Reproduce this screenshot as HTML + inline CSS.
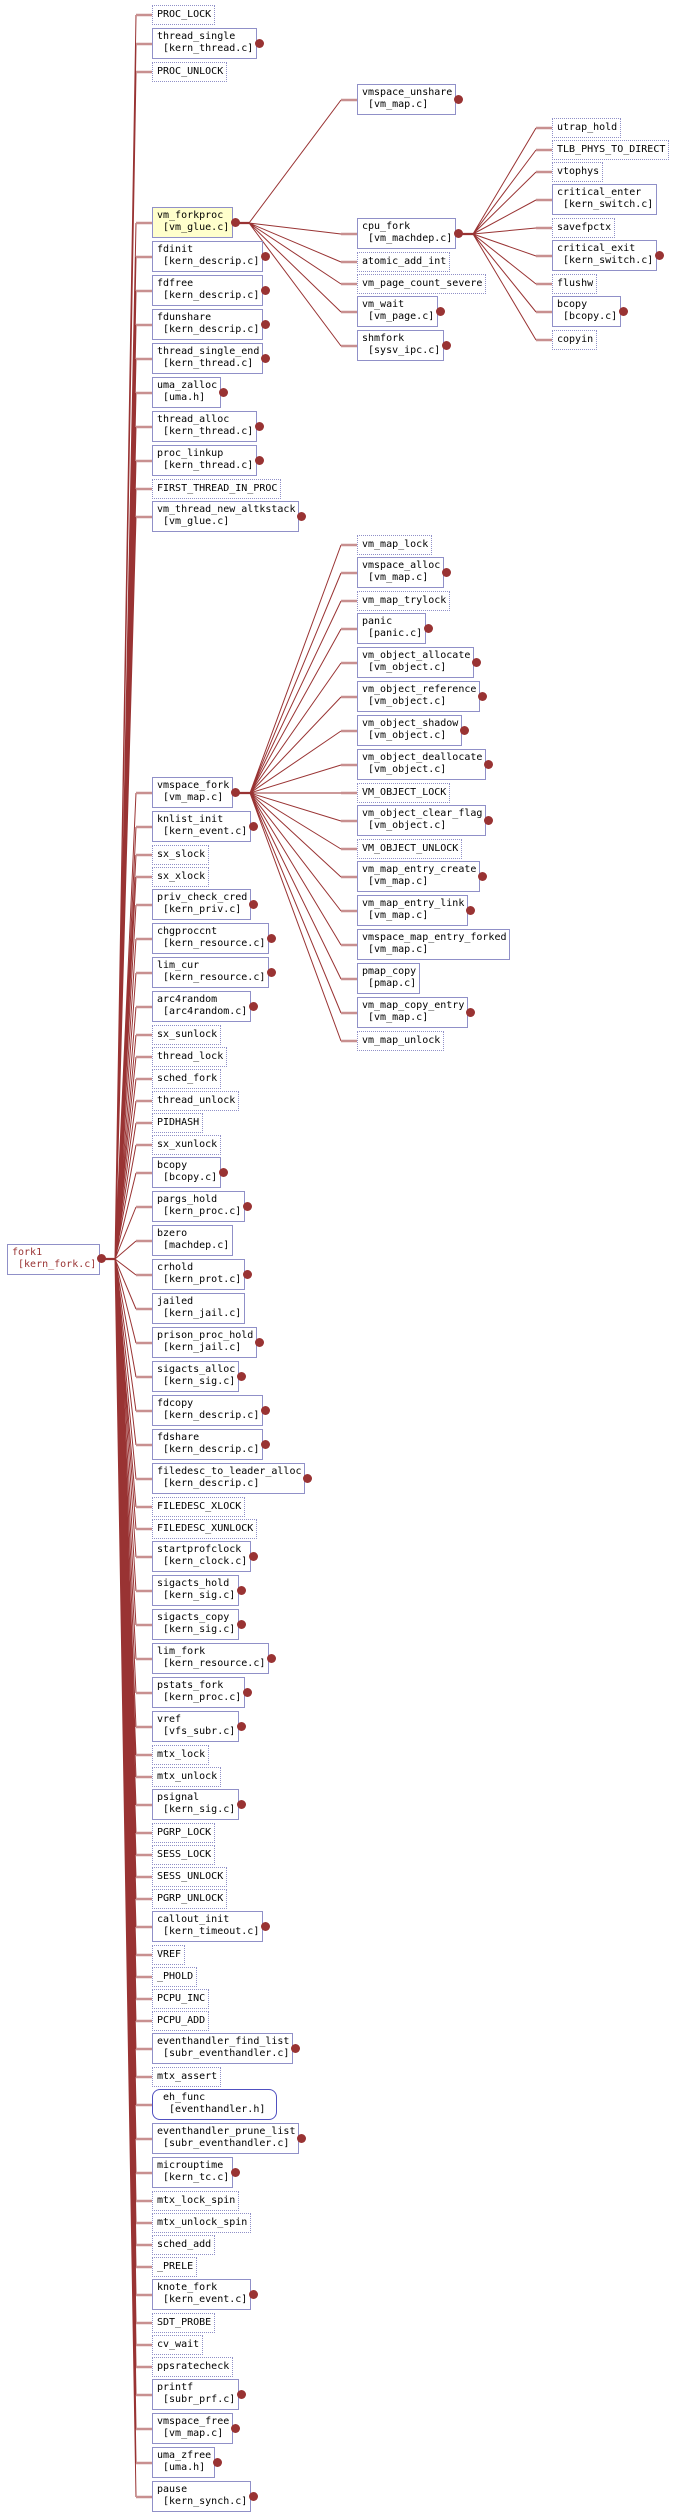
<!DOCTYPE html>
<html><head><meta charset="utf-8"><style>
body{margin:0;width:674px;height:2519px;background:#fff;position:relative;overflow:hidden}
.s,.d,.r{position:absolute;box-sizing:border-box;font:10px/11.7px "DejaVu Sans Mono","Liberation Mono",monospace;white-space:pre;color:#000;background:#fff}
.s{height:31px;border:1.4px solid #9090c8;padding:2px 0 0 4px}
.d{height:20px;border:1.4px dotted #9090c8;padding:2.5px 0 0 4px}
.r{height:31px;border:1.4px solid #5050c0;border-radius:8px;padding:2px 0 0 4px}
.L{left:152px}.M{left:357px}.R{left:552px}
.o{position:absolute;width:9px;height:9px;border-radius:50%;background:#993333}
svg{position:absolute;left:0;top:0}
</style></head><body>
<svg width="674" height="2519">
<g fill="none" stroke="#993333" stroke-width="1">
<path d="M115 1259L136 15M115 1259L136 44M115 1259L136 72M115 1259L136 223M115 1259L136 257M115 1259L136 291M115 1259L136 325M115 1259L136 359M115 1259L136 393M115 1259L136 427M115 1259L136 461M115 1259L136 489M115 1259L136 517M115 1259L136 793M115 1259L136 827M115 1259L136 855M115 1259L136 877M115 1259L136 905M115 1259L136 939M115 1259L136 973M115 1259L136 1007M115 1259L136 1035M115 1259L136 1057M115 1259L136 1079M115 1259L136 1101M115 1259L136 1123M115 1259L136 1145M115 1259L136 1173M115 1259L136 1207M115 1259L136 1241M115 1259L136 1275M115 1259L136 1309M115 1259L136 1343M115 1259L136 1377M115 1259L136 1411M115 1259L136 1445M115 1259L136 1479M115 1259L136 1507M115 1259L136 1529M115 1259L136 1557M115 1259L136 1591M115 1259L136 1625M115 1259L136 1659M115 1259L136 1693M115 1259L136 1727M115 1259L136 1755M115 1259L136 1777M115 1259L136 1805M115 1259L136 1833M115 1259L136 1855M115 1259L136 1877M115 1259L136 1899M115 1259L136 1927M115 1259L136 1955M115 1259L136 1977M115 1259L136 1999M115 1259L136 2021M115 1259L136 2049M115 1259L136 2077M115 1259L136 2105M115 1259L136 2139M115 1259L136 2173M115 1259L136 2201M115 1259L136 2223M115 1259L136 2245M115 1259L136 2267M115 1259L136 2295M115 1259L136 2323M115 1259L136 2345M115 1259L136 2367M115 1259L136 2395M115 1259L136 2429M115 1259L136 2463M115 1259L136 2497"/>
<path d="M249 223L341 100M249 223L341 234M249 223L341 262M249 223L341 284M249 223L341 312M249 223L341 346"/>
<path d="M473 234L536 128M473 234L536 150M473 234L536 172M473 234L536 200M473 234L536 228M473 234L536 256M473 234L536 284M473 234L536 312M473 234L536 340"/>
<path d="M250 793L341 545M250 793L341 573M250 793L341 601M250 793L341 629M250 793L341 663M250 793L341 697M250 793L341 731M250 793L341 765M250 793L341 793M250 793L341 821M250 793L341 849M250 793L341 877M250 793L341 911M250 793L341 945M250 793L341 979M250 793L341 1013M250 793L341 1041"/>
</g>
<g fill="none" stroke="#993333" stroke-width="2.2">
<path d="M102 1259H115M235 223H249M459 234H473M236 793H250"/>
</g>
<g fill="none" stroke="#c89090" stroke-width="2.4">
<path d="M136 15H152M136 44H152M136 72H152M136 223H152M136 257H152M136 291H152M136 325H152M136 359H152M136 393H152M136 427H152M136 461H152M136 489H152M136 517H152M136 793H152M136 827H152M136 855H152M136 877H152M136 905H152M136 939H152M136 973H152M136 1007H152M136 1035H152M136 1057H152M136 1079H152M136 1101H152M136 1123H152M136 1145H152M136 1173H152M136 1207H152M136 1241H152M136 1275H152M136 1309H152M136 1343H152M136 1377H152M136 1411H152M136 1445H152M136 1479H152M136 1507H152M136 1529H152M136 1557H152M136 1591H152M136 1625H152M136 1659H152M136 1693H152M136 1727H152M136 1755H152M136 1777H152M136 1805H152M136 1833H152M136 1855H152M136 1877H152M136 1899H152M136 1927H152M136 1955H152M136 1977H152M136 1999H152M136 2021H152M136 2049H152M136 2077H152M136 2105H152M136 2139H152M136 2173H152M136 2201H152M136 2223H152M136 2245H152M136 2267H152M136 2295H152M136 2323H152M136 2345H152M136 2367H152M136 2395H152M136 2429H152M136 2463H152M136 2497H152"/>
<path d="M341 100H357M341 234H357M341 262H357M341 284H357M341 312H357M341 346H357"/>
<path d="M536 128H552M536 150H552M536 172H552M536 200H552M536 228H552M536 256H552M536 284H552M536 312H552M536 340H552"/>
<path d="M341 545H357M341 573H357M341 601H357M341 629H357M341 663H357M341 697H357M341 731H357M341 765H357M341 793H357M341 821H357M341 849H357M341 877H357M341 911H357M341 945H357M341 979H357M341 1013H357M341 1041H357"/>
</g>
</svg>

<div class="s" style="left:7px;top:1244px;width:93px;color:#993333">fork1
 [kern_fork.c]</div><div class="o" style="left:97px;top:1254px"></div>

<div class="d L" style="top:5px;width:63px">PROC_LOCK</div>
<div class="s L" style="top:28px;width:105px">thread_single
 [kern_thread.c]</div><div class="o" style="left:255px;top:39px"></div>
<div class="d L" style="top:62px;width:75px">PROC_UNLOCK</div>
<div class="s L" style="top:207px;width:81px;background:#ffffcc">vm_forkproc
 [vm_glue.c]</div><div class="o" style="left:231px;top:218px"></div>
<div class="s L" style="top:241px;width:111px">fdinit
 [kern_descrip.c]</div><div class="o" style="left:261px;top:252px"></div>
<div class="s L" style="top:275px;width:111px">fdfree
 [kern_descrip.c]</div><div class="o" style="left:261px;top:286px"></div>
<div class="s L" style="top:309px;width:111px">fdunshare
 [kern_descrip.c]</div><div class="o" style="left:261px;top:320px"></div>
<div class="s L" style="top:343px;width:111px">thread_single_end
 [kern_thread.c]</div><div class="o" style="left:261px;top:354px"></div>
<div class="s L" style="top:377px;width:69px">uma_zalloc
 [uma.h]</div><div class="o" style="left:219px;top:388px"></div>
<div class="s L" style="top:411px;width:105px">thread_alloc
 [kern_thread.c]</div><div class="o" style="left:255px;top:422px"></div>
<div class="s L" style="top:445px;width:105px">proc_linkup
 [kern_thread.c]</div><div class="o" style="left:255px;top:456px"></div>
<div class="d L" style="top:479px;width:129px">FIRST_THREAD_IN_PROC</div>
<div class="s L" style="top:501px;width:147px">vm_thread_new_altkstack
 [vm_glue.c]</div><div class="o" style="left:297px;top:512px"></div>
<div class="s L" style="top:777px;width:81px">vmspace_fork
 [vm_map.c]</div><div class="o" style="left:231px;top:788px"></div>
<div class="s L" style="top:811px;width:99px">knlist_init
 [kern_event.c]</div><div class="o" style="left:249px;top:822px"></div>
<div class="d L" style="top:845px;width:57px">sx_slock</div>
<div class="d L" style="top:867px;width:57px">sx_xlock</div>
<div class="s L" style="top:889px;width:99px">priv_check_cred
 [kern_priv.c]</div><div class="o" style="left:249px;top:900px"></div>
<div class="s L" style="top:923px;width:117px">chgproccnt
 [kern_resource.c]</div><div class="o" style="left:267px;top:934px"></div>
<div class="s L" style="top:957px;width:117px">lim_cur
 [kern_resource.c]</div><div class="o" style="left:267px;top:968px"></div>
<div class="s L" style="top:991px;width:99px">arc4random
 [arc4random.c]</div><div class="o" style="left:249px;top:1002px"></div>
<div class="d L" style="top:1025px;width:69px">sx_sunlock</div>
<div class="d L" style="top:1047px;width:75px">thread_lock</div>
<div class="d L" style="top:1069px;width:69px">sched_fork</div>
<div class="d L" style="top:1091px;width:87px">thread_unlock</div>
<div class="d L" style="top:1113px;width:51px">PIDHASH</div>
<div class="d L" style="top:1135px;width:69px">sx_xunlock</div>
<div class="s L" style="top:1157px;width:69px">bcopy
 [bcopy.c]</div><div class="o" style="left:219px;top:1168px"></div>
<div class="s L" style="top:1191px;width:93px">pargs_hold
 [kern_proc.c]</div><div class="o" style="left:243px;top:1202px"></div>
<div class="s L" style="top:1225px;width:81px">bzero
 [machdep.c]</div>
<div class="s L" style="top:1259px;width:93px">crhold
 [kern_prot.c]</div><div class="o" style="left:243px;top:1270px"></div>
<div class="s L" style="top:1293px;width:93px">jailed
 [kern_jail.c]</div>
<div class="s L" style="top:1327px;width:105px">prison_proc_hold
 [kern_jail.c]</div><div class="o" style="left:255px;top:1338px"></div>
<div class="s L" style="top:1361px;width:87px">sigacts_alloc
 [kern_sig.c]</div><div class="o" style="left:237px;top:1372px"></div>
<div class="s L" style="top:1395px;width:111px">fdcopy
 [kern_descrip.c]</div><div class="o" style="left:261px;top:1406px"></div>
<div class="s L" style="top:1429px;width:111px">fdshare
 [kern_descrip.c]</div><div class="o" style="left:261px;top:1440px"></div>
<div class="s L" style="top:1463px;width:153px">filedesc_to_leader_alloc
 [kern_descrip.c]</div><div class="o" style="left:303px;top:1474px"></div>
<div class="d L" style="top:1497px;width:93px">FILEDESC_XLOCK</div>
<div class="d L" style="top:1519px;width:105px">FILEDESC_XUNLOCK</div>
<div class="s L" style="top:1541px;width:99px">startprofclock
 [kern_clock.c]</div><div class="o" style="left:249px;top:1552px"></div>
<div class="s L" style="top:1575px;width:87px">sigacts_hold
 [kern_sig.c]</div><div class="o" style="left:237px;top:1586px"></div>
<div class="s L" style="top:1609px;width:87px">sigacts_copy
 [kern_sig.c]</div><div class="o" style="left:237px;top:1620px"></div>
<div class="s L" style="top:1643px;width:117px">lim_fork
 [kern_resource.c]</div><div class="o" style="left:267px;top:1654px"></div>
<div class="s L" style="top:1677px;width:93px">pstats_fork
 [kern_proc.c]</div><div class="o" style="left:243px;top:1688px"></div>
<div class="s L" style="top:1711px;width:87px">vref
 [vfs_subr.c]</div><div class="o" style="left:237px;top:1722px"></div>
<div class="d L" style="top:1745px;width:57px">mtx_lock</div>
<div class="d L" style="top:1767px;width:69px">mtx_unlock</div>
<div class="s L" style="top:1789px;width:87px">psignal
 [kern_sig.c]</div><div class="o" style="left:237px;top:1800px"></div>
<div class="d L" style="top:1823px;width:63px">PGRP_LOCK</div>
<div class="d L" style="top:1845px;width:63px">SESS_LOCK</div>
<div class="d L" style="top:1867px;width:75px">SESS_UNLOCK</div>
<div class="d L" style="top:1889px;width:75px">PGRP_UNLOCK</div>
<div class="s L" style="top:1911px;width:111px">callout_init
 [kern_timeout.c]</div><div class="o" style="left:261px;top:1922px"></div>
<div class="d L" style="top:1945px;width:33px">VREF</div>
<div class="d L" style="top:1967px;width:45px">_PHOLD</div>
<div class="d L" style="top:1989px;width:57px">PCPU_INC</div>
<div class="d L" style="top:2011px;width:57px">PCPU_ADD</div>
<div class="s L" style="top:2033px;width:141px">eventhandler_find_list
 [subr_eventhandler.c]</div><div class="o" style="left:291px;top:2044px"></div>
<div class="d L" style="top:2067px;width:69px">mtx_assert</div>
<div class="r L" style="top:2089px;width:125px"> eh_func
  [eventhandler.h]</div>
<div class="s L" style="top:2123px;width:147px">eventhandler_prune_list
 [subr_eventhandler.c]</div><div class="o" style="left:297px;top:2134px"></div>
<div class="s L" style="top:2157px;width:81px">microuptime
 [kern_tc.c]</div><div class="o" style="left:231px;top:2168px"></div>
<div class="d L" style="top:2191px;width:87px">mtx_lock_spin</div>
<div class="d L" style="top:2213px;width:99px">mtx_unlock_spin</div>
<div class="d L" style="top:2235px;width:63px">sched_add</div>
<div class="d L" style="top:2257px;width:45px">_PRELE</div>
<div class="s L" style="top:2279px;width:99px">knote_fork
 [kern_event.c]</div><div class="o" style="left:249px;top:2290px"></div>
<div class="d L" style="top:2313px;width:63px">SDT_PROBE</div>
<div class="d L" style="top:2335px;width:51px">cv_wait</div>
<div class="d L" style="top:2357px;width:81px">ppsratecheck</div>
<div class="s L" style="top:2379px;width:87px">printf
 [subr_prf.c]</div><div class="o" style="left:237px;top:2390px"></div>
<div class="s L" style="top:2413px;width:81px">vmspace_free
 [vm_map.c]</div><div class="o" style="left:231px;top:2424px"></div>
<div class="s L" style="top:2447px;width:63px">uma_zfree
 [uma.h]</div><div class="o" style="left:213px;top:2458px"></div>
<div class="s L" style="top:2481px;width:99px">pause
 [kern_synch.c]</div><div class="o" style="left:249px;top:2492px"></div>

<div class="s M" style="top:84px;width:99px">vmspace_unshare
 [vm_map.c]</div><div class="o" style="left:454px;top:95px"></div>
<div class="s M" style="top:218px;width:99px">cpu_fork
 [vm_machdep.c]</div><div class="o" style="left:454px;top:229px"></div>
<div class="d M" style="top:252px;width:93px">atomic_add_int</div>
<div class="d M" style="top:274px;width:129px">vm_page_count_severe</div>
<div class="s M" style="top:296px;width:81px">vm_wait
 [vm_page.c]</div><div class="o" style="left:436px;top:307px"></div>
<div class="s M" style="top:330px;width:87px">shmfork
 [sysv_ipc.c]</div><div class="o" style="left:442px;top:341px"></div>

<div class="d R" style="top:118px;width:69px">utrap_hold</div>
<div class="d R" style="top:140px;width:117px">TLB_PHYS_TO_DIRECT</div>
<div class="d R" style="top:162px;width:51px">vtophys</div>
<div class="s R" style="top:184px;width:105px">critical_enter
 [kern_switch.c]</div>
<div class="d R" style="top:218px;width:63px">savefpctx</div>
<div class="s R" style="top:240px;width:105px">critical_exit
 [kern_switch.c]</div><div class="o" style="left:655px;top:251px"></div>
<div class="d R" style="top:274px;width:45px">flushw</div>
<div class="s R" style="top:296px;width:69px">bcopy
 [bcopy.c]</div><div class="o" style="left:619px;top:307px"></div>
<div class="d R" style="top:330px;width:45px">copyin</div>

<div class="d M" style="top:535px;width:75px">vm_map_lock</div>
<div class="s M" style="top:557px;width:87px">vmspace_alloc
 [vm_map.c]</div><div class="o" style="left:442px;top:568px"></div>
<div class="d M" style="top:591px;width:93px">vm_map_trylock</div>
<div class="s M" style="top:613px;width:69px">panic
 [panic.c]</div><div class="o" style="left:424px;top:624px"></div>
<div class="s M" style="top:647px;width:117px">vm_object_allocate
 [vm_object.c]</div><div class="o" style="left:472px;top:658px"></div>
<div class="s M" style="top:681px;width:123px">vm_object_reference
 [vm_object.c]</div><div class="o" style="left:478px;top:692px"></div>
<div class="s M" style="top:715px;width:105px">vm_object_shadow
 [vm_object.c]</div><div class="o" style="left:460px;top:726px"></div>
<div class="s M" style="top:749px;width:129px">vm_object_deallocate
 [vm_object.c]</div><div class="o" style="left:484px;top:760px"></div>
<div class="d M" style="top:783px;width:93px">VM_OBJECT_LOCK</div>
<div class="s M" style="top:805px;width:129px">vm_object_clear_flag
 [vm_object.c]</div><div class="o" style="left:484px;top:816px"></div>
<div class="d M" style="top:839px;width:105px">VM_OBJECT_UNLOCK</div>
<div class="s M" style="top:861px;width:123px">vm_map_entry_create
 [vm_map.c]</div><div class="o" style="left:478px;top:872px"></div>
<div class="s M" style="top:895px;width:111px">vm_map_entry_link
 [vm_map.c]</div><div class="o" style="left:466px;top:906px"></div>
<div class="s M" style="top:929px;width:153px">vmspace_map_entry_forked
 [vm_map.c]</div>
<div class="s M" style="top:963px;width:63px">pmap_copy
 [pmap.c]</div>
<div class="s M" style="top:997px;width:111px">vm_map_copy_entry
 [vm_map.c]</div><div class="o" style="left:466px;top:1008px"></div>
<div class="d M" style="top:1031px;width:87px">vm_map_unlock</div>
</body></html>
